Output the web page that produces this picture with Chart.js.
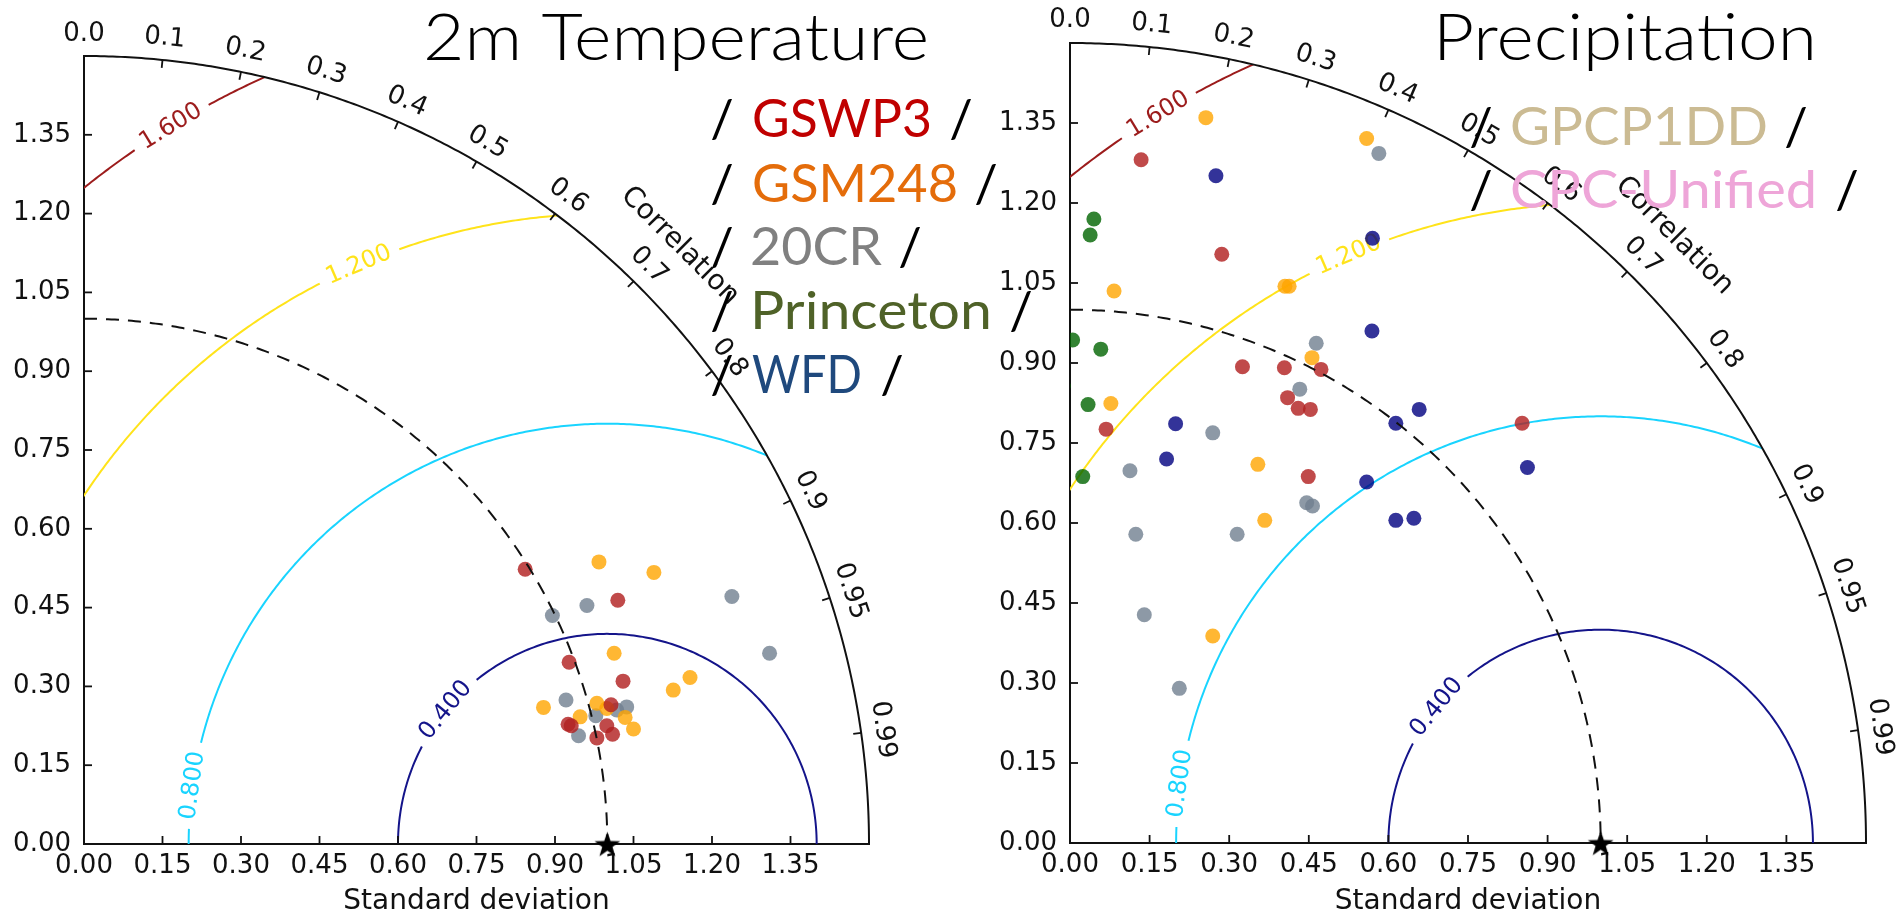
<!DOCTYPE html>
<html><head><meta charset="utf-8">
<script src="https://cdn.jsdelivr.net/npm/chart.js@4/dist/chart.umd.min.js"></script>
<style>
html,body{margin:0;padding:0;background:#fff;width:1901px;height:917px;overflow:hidden}
canvas{position:absolute;left:0;top:0}
</style></head><body>
<canvas id="c1" width="1901" height="917"></canvas>
<canvas id="c2" width="1901" height="917"></canvas>
<script>
// ---------- data ----------
const STD_TICKS = [0.00,0.15,0.30,0.45,0.60,0.75,0.90,1.05,1.20,1.35];
const CORR_TICKS = [0,0.1,0.2,0.3,0.4,0.5,0.6,0.7,0.8,0.9,0.95,0.99];
const CORR_TICK_LABELS = ['0.0','0.1','0.2','0.3','0.4','0.5','0.6','0.7','0.8','0.9','0.95','0.99'];
const RMS_LEVELS = [0.4,0.8,1.2,1.6];
const RMS_LABELS = ['0.400','0.800','1.200','1.600'];
const REF_POINT = [1.0, 0.0];
const MAX_STD = 1.5;
const MODEL_NAMES = ['GSWP3','GSM248','20CR','Princeton','WFD'];
const OBS_NAMES = ['GPCP1DD','CPC-Unified'];
const TITLES = ['2m Temperature','Precipitation'];

// 2m Temperature: [std*corr, std*sqrt(1-corr^2)]
const T_GSWP3 = [[0.843,0.523],[1.020,0.464],[0.927,0.346],[1.030,0.310],[1.007,0.265],[0.925,0.228],[0.931,0.225],[0.999,0.225],[0.980,0.202],[1.010,0.209]];
const T_GSM248 = [[0.984,0.537],[1.089,0.517],[1.013,0.363],[1.158,0.317],[1.126,0.293],[0.878,0.260],[0.980,0.268],[0.999,0.258],[0.948,0.242],[1.034,0.241],[1.050,0.219]];
const T_20CR = [[0.961,0.454],[0.895,0.435],[1.238,0.471],[1.310,0.363],[0.921,0.274],[1.018,0.255],[1.037,0.261],[0.978,0.244],[0.945,0.206]];

// Precipitation
const P_GSWP3 = [[0.134,1.281],[0.286,1.104],[0.325,0.893],[0.404,0.891],[0.473,0.888],[0.410,0.835],[0.430,0.815],[0.453,0.813],[0.068,0.776],[0.852,0.787],[0.449,0.687]];
const P_GSM248 = [[0.256,1.360],[0.559,1.321],[0.083,1.035],[0.405,1.044],[0.413,1.044],[0.456,0.910],[0.077,0.824],[0.354,0.710],[0.367,0.605],[0.269,0.388]];
const P_20CR = [[0.582,1.293],[0.464,0.937],[0.433,0.851],[0.269,0.769],[0.113,0.698],[0.446,0.638],[0.457,0.632],[0.124,0.579],[0.315,0.579],[0.140,0.428],[0.206,0.290]];
const P_PRINCETON = [[0.045,1.170],[0.038,1.140],[0.005,0.943],[0.058,0.926],[-0.013,0.857],[0.034,0.822],[0.024,0.687]];
const P_WFD = [[0.275,1.251],[0.570,1.134],[0.569,0.960],[0.658,0.813],[0.199,0.786],[0.614,0.787],[0.862,0.704],[0.182,0.720],[0.559,0.677],[0.614,0.605],[0.648,0.609]];

// ---------- styles ----------
const POINT_COLORS = {
  GSWP3:'rgba(178,34,34,0.82)', GSM248:'rgba(255,165,0,0.8)', '20CR':'rgba(112,128,144,0.8)',
  Princeton:'rgba(0,100,0,0.8)', WFD:'rgba(0,0,128,0.8)'
};
const LEGEND_COLORS = {GSWP3:'#c00000',GSM248:'#e46c0a','20CR':'#808080',Princeton:'#4f6228',WFD:'#1f497d',GPCP1DD:'#cbbb93','CPC-Unified':'#eea5d8'};
const RMS_COLORS = ['#14148a','#19d4ff','#ffe31a','#9c1c1c'];
const RMS_LABEL_ANGLE = [140.5,172,113.3,121.4]; // degrees around reference point
const FONT = "'DejaVu Sans', sans-serif";
const TFONT = "Lato, 'Open Sans', sans-serif";
const TICK_LEN = 8;

function starImage(size){
  const c=document.createElement('canvas'); c.width=c.height=size;
  const g=c.getContext('2d'); g.fillStyle='#000'; g.beginPath();
  for(let i=0;i<10;i++){
    const r = i%2 ? size*0.2 : size*0.5;
    const a = -Math.PI/2 + i*Math.PI/5;
    const x=size/2+r*Math.cos(a), y=size/2+r*Math.sin(a)+size*0.05;
    i?g.lineTo(x,y):g.moveTo(x,y);
  }
  g.closePath(); g.fill(); return c;
}
const STAR = starImage(27);

function fitText(ctx, text, left, baseline, width, font, color){
  ctx.save(); ctx.font=font; const w=ctx.measureText(text).width;
  ctx.translate(left, baseline); ctx.scale(width/w,1);
  ctx.fillStyle=color; ctx.textAlign='left'; ctx.textBaseline='alphabetic';
  ctx.fillText(text,0,0); ctx.restore();
}
function slash(ctx, cx, baseline, font){
  ctx.save(); ctx.font=font; ctx.fillStyle='#000'; ctx.textAlign='center'; ctx.textBaseline='alphabetic';
  ctx.fillText('/',cx,baseline); ctx.restore();
}

function makePlugin(panel){
  const P = (chart,x,y)=>[chart.scales.x.getPixelForValue(x), chart.scales.y.getPixelForValue(y)];
  return {
    id:'taylor'+panel.key,
    beforeDatasetsDraw(chart){
      const ctx=chart.ctx, xs=chart.scales.x;
      const unit = xs.getPixelForValue(1)-xs.getPixelForValue(0);
      ctx.save();
      ctx.beginPath();
      let o=P(chart,0,0); ctx.moveTo(o[0],o[1]);
      for(let i=0;i<=240;i++){const t=i/240*Math.PI/2; const p=P(chart,MAX_STD*Math.cos(t),MAX_STD*Math.sin(t)); ctx.lineTo(p[0],p[1]);}
      ctx.closePath(); ctx.clip();
      ctx.font='24px '+FONT;
      RMS_LEVELS.forEach((lev,k)=>{
        const label=RMS_LABELS[k];
        const tw=ctx.measureText(label).width;
        const phi=RMS_LABEL_ANGLE[k]*Math.PI/180;
        const half=(tw/2+9)/(lev*unit);
        ctx.strokeStyle=RMS_COLORS[k]; ctx.lineWidth=2;
        const seg=(a,b)=>{
          const n=Math.max(4,Math.ceil((b-a)*lev*unit/3));
          ctx.beginPath();
          for(let i=0;i<=n;i++){const t=a+(b-a)*i/n; const p=P(chart,REF_POINT[0]+lev*Math.cos(t),REF_POINT[1]+lev*Math.sin(t)); i?ctx.lineTo(p[0],p[1]):ctx.moveTo(p[0],p[1]);}
          ctx.stroke();
        };
        seg(0,phi-half); seg(phi+half,Math.PI);
        const c=P(chart,REF_POINT[0]+lev*Math.cos(phi),REF_POINT[1]+lev*Math.sin(phi));
        ctx.save(); ctx.translate(c[0],c[1]); ctx.rotate(Math.PI/2-phi);
        ctx.fillStyle=RMS_COLORS[k]; ctx.textAlign='center'; ctx.textBaseline='middle';
        ctx.fillText(label,0,0); ctx.restore();
      });
      ctx.restore();
      // inward ticks on std axes
      ctx.save(); ctx.strokeStyle='#111'; ctx.lineWidth=1.8;
      const x0=chart.scales.x.getPixelForValue(0), y0=chart.scales.y.getPixelForValue(0);
      STD_TICKS.forEach(v=>{
        if(v===0) return;
        const x=chart.scales.x.getPixelForValue(v);
        ctx.beginPath(); ctx.moveTo(x,y0); ctx.lineTo(x,y0-TICK_LEN); ctx.stroke();
        const y=chart.scales.y.getPixelForValue(v);
        ctx.beginPath(); ctx.moveTo(x0,y); ctx.lineTo(x0+TICK_LEN,y); ctx.stroke();
      });
      ctx.restore();
    },
    beforeDatasetDraw(chart,args){
      if(args.index!==0) return;
      const ctx=chart.ctx;
      ctx.save(); ctx.strokeStyle='#111'; ctx.lineWidth=2; ctx.setLineDash([13,9]);
      ctx.beginPath();
      for(let i=0;i<=240;i++){const t=i/240*Math.PI/2; const p=P(chart,Math.sin(t)*REF_POINT[0],Math.cos(t)*REF_POINT[0]); i?ctx.lineTo(p[0],p[1]):ctx.moveTo(p[0],p[1]);}
      ctx.stroke(); ctx.restore();
    },
    afterDraw(chart){
      const ctx=chart.ctx;
      ctx.save(); ctx.strokeStyle='#111'; ctx.lineWidth=2;
      ctx.beginPath();
      for(let i=0;i<=300;i++){const t=i/300*Math.PI/2; const p=P(chart,MAX_STD*Math.cos(t),MAX_STD*Math.sin(t)); i?ctx.lineTo(p[0],p[1]):ctx.moveTo(p[0],p[1]);}
      ctx.stroke();
      const o=P(chart,0,0);
      ctx.font='26px '+FONT; ctx.fillStyle='#111'; ctx.textAlign='center'; ctx.textBaseline='middle';
      CORR_TICKS.forEach((c,i)=>{
        const th=Math.acos(c);
        const a=P(chart,MAX_STD*Math.cos(th),MAX_STD*Math.sin(th));
        const dx=o[0]-a[0], dy=o[1]-a[1], L=Math.hypot(dx,dy);
        ctx.lineWidth=1.8;
        ctx.beginPath(); ctx.moveTo(a[0],a[1]); ctx.lineTo(a[0]+dx/L*TICK_LEN,a[1]+dy/L*TICK_LEN); ctx.stroke();
        const l=P(chart,1.542*Math.cos(th),1.542*Math.sin(th));
        ctx.save(); ctx.translate(l[0],l[1]); ctx.rotate(Math.PI/2-th); ctx.fillText(CORR_TICK_LABELS[i],0,0); ctx.restore();
      });
      const cl=P(chart,1.61*Math.cos(Math.PI/4),1.61*Math.sin(Math.PI/4));
      ctx.font='28px '+FONT;
      ctx.save(); ctx.translate(cl[0],cl[1]); ctx.rotate(Math.PI/4); ctx.fillText('Correlation',0,0); ctx.restore();
      ctx.restore();
      // title
      fitText(ctx, panel.title, panel.titleBox[0], panel.titleBox[2], panel.titleBox[1]-panel.titleBox[0], '300 66px '+TFONT, '#000');
      // legend
      const lf='400 52px '+TFONT;
      panel.legend.forEach(e=>{
        slash(ctx,e.lead,e.base,lf);
        fitText(ctx,e.name,e.x0,e.base,e.x1-e.x0,lf,LEGEND_COLORS[e.name]);
        slash(ctx,e.trail,e.base,lf);
      });
    }
  };
}

function ds(label, pts){
  return {label, data: pts.map(p=>({x:p[0],y:p[1]})), backgroundColor:POINT_COLORS[label], borderWidth:0,
    pointRadius:7.5, pointHoverRadius:7.5, clip:0};
}
function refDs(){
  return {label:'Reference', data:[{x:REF_POINT[0],y:REF_POINT[1]}], pointStyle:STAR, pointRadius:13, clip:false};
}
function scaleCfg(axis, size, isX){
  return {
    type:'linear', min:0, max:MAX_STD,
    afterBuildTicks:s=>{ s.ticks=STD_TICKS.map(v=>({value:v})); },
    afterFit:s=>{ if(isX) s.height=size; else s.width=size; },
    grid:{display:false, drawTicks:false},
    border:{display:true,color:'#111',width:2},
    ticks:{padding:isX?7:13, color:'#111', font:{family:FONT,size:26}, autoSkip:false, maxRotation:0, minRotation:0,
      callback:v=>Number(v).toFixed(2)},
    title: isX ? {display:true,text:'Standard deviation',color:'#111',font:{family:FONT,size:28,lineHeight:1.1},padding:0} : {display:false}
  };
}
function makeChart(id, datasets, pad, yw, xh, panel){
  return new Chart(document.getElementById(id), {
    type:'scatter',
    data:{datasets},
    options:{
      responsive:false, animation:false, devicePixelRatio:1, events:[],
      layout:{padding:pad},
      plugins:{legend:{display:false}, tooltip:{enabled:false}},
      scales:{x:scaleCfg('x',xh,true), y:scaleCfg('y',yw,false)}
    },
    plugins:[makePlugin(panel)]
  });
}

makeChart('c1',
  [refDs(), ds('GSWP3',T_GSWP3), ds('GSM248',T_GSM248), ds('20CR',T_20CR)],
  {left:0,top:56,right:1901-869,bottom:0}, 84, 73,
  {key:'T', title:TITLES[0], titleBox:[423,929,60],
   legend:[
     {name:MODEL_NAMES[0],lead:722,x0:752,x1:932,trail:961,base:137},
     {name:MODEL_NAMES[1],lead:722,x0:752,x1:958,trail:986,base:202},
     {name:MODEL_NAMES[2],lead:722,x0:750,x1:882,trail:910,base:265},
     {name:MODEL_NAMES[3],lead:722,x0:750,x1:992,trail:1021,base:329},
     {name:MODEL_NAMES[4],lead:722,x0:752,x1:862,trail:892,base:393}
   ]});

makeChart('c2',
  [refDs(), ds('GSWP3',P_GSWP3), ds('GSM248',P_GSM248), ds('20CR',P_20CR), ds('Princeton',P_PRINCETON), ds('WFD',P_WFD)],
  {left:980,top:43,right:1901-1866,bottom:0}, 90, 74,
  {key:'P', title:TITLES[1], titleBox:[1433,1817,60],
   legend:[
     {name:OBS_NAMES[0],lead:1481,x0:1510,x1:1768,trail:1796,base:145},
     {name:OBS_NAMES[1],lead:1481,x0:1510,x1:1817,trail:1847,base:208}
   ]});
</script>
</body></html>
